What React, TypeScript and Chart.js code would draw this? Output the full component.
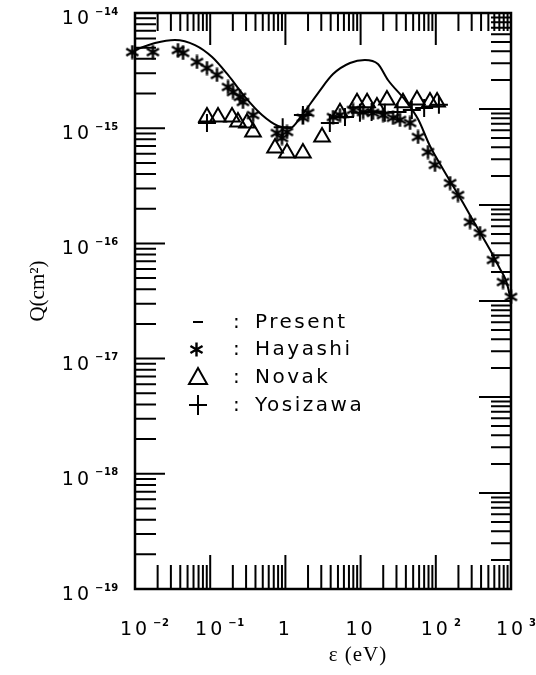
import React, { useEffect, useRef } from 'react';
import { Chart, registerables } from 'chart.js';

Chart.register(...registerables);

// ---- data (energy in eV, cross section in cm^2) ----
const presentEnergy = [0.01, 0.0185, 0.034, 0.0628, 0.106, 0.1725, 0.29, 0.489, 0.797, 1.15, 1.66, 2.72, 4.3, 7.23, 11.4, 17.0, 23.1, 38.9, 58, 83.7, 125, 230, 353, 526, 715, 832, 912, 970];
const presentQ = [4.77e-15, 5.49e-15, 5.83e-15, 5.27e-15, 4.15e-15, 2.9e-15, 1.87e-15, 1.3e-15, 1.045e-15, 1.0e-15, 1.3e-15, 2.02e-15, 2.95e-15, 3.68e-15, 3.91e-15, 3.61e-15, 2.62e-15, 1.76e-15, 1.2e-15, 7.0e-16, 4.4e-16, 2.25e-16, 1.38e-16, 8.8e-17, 6.0e-17, 5.0e-17, 4.15e-17, 3.43e-17];

const hayashiEnergy = [0.0092, 0.0173, 0.0373, 0.0435, 0.0667, 0.0906, 0.123, 0.1725, 0.201, 0.249, 0.273, 0.371, 0.773, 0.901, 1.05, 1.71, 2.0, 4.3, 5.32, 7.93, 10.8, 14.6, 19.9, 27.0, 33.4, 45.4, 58.0, 78.7, 97.5, 155, 197, 285, 387, 577, 784, 1000];
const hayashiQ = [4.58e-15, 4.58e-15, 4.77e-15, 4.5e-15, 3.76e-15, 3.33e-15, 2.9e-15, 2.28e-15, 2.06e-15, 1.87e-15, 1.69e-15, 1.3e-15, 9.08e-16, 8.22e-16, 9.27e-16, 1.23e-15, 1.36e-15, 1.25e-15, 1.3e-15, 1.44e-15, 1.38e-15, 1.36e-15, 1.3e-15, 1.23e-15, 1.18e-15, 1.11e-15, 8.39e-16, 6.21e-16, 4.8e-16, 3.34e-16, 2.63e-16, 1.53e-16, 1.23e-16, 7.18e-17, 4.62e-17, 3.43e-17];

const novakEnergy = [0.0906, 0.127, 0.195, 0.234, 0.308, 0.371, 0.728, 1.05, 1.71, 3.07, 5.32, 8.96, 12.2, 16.5, 22.4, 36.6, 56.2, 83.7, 104];
const novakQ = [1.25e-15, 1.25e-15, 1.25e-15, 1.13e-15, 1.11e-15, 9.27e-16, 6.73e-16, 6.09e-16, 6.09e-16, 8.39e-16, 1.36e-15, 1.66e-15, 1.66e-15, 1.53e-15, 1.76e-15, 1.66e-15, 1.76e-15, 1.69e-15, 1.69e-15];

const yosizawaEnergy = [0.0906, 0.92, 1.71, 3.9, 6.2, 9.8, 14, 21, 31, 48, 70, 110];
const yosizawaQ = [1.11e-15, 1.02e-15, 1.3e-15, 1.11e-15, 1.25e-15, 1.36e-15, 1.38e-15, 1.36e-15, 1.38e-15, 1.44e-15, 1.5e-15, 1.6e-15];

const xTickValues = [1e-2, 1e-1, 1, 10, 100, 1000];
const xTickLabels = ['10^-2', '10^-1', '1', '10', '10^2', '10^3'];
const yTickValues = [1e-14, 1e-15, 1e-16, 1e-17, 1e-18, 1e-19];
const yTickLabels = ['10^-14', '10^-15', '10^-16', '10^-17', '10^-18', '10^-19'];
const y2TickValues = [1e-14, 1e-15, 1e-16, 1e-17, 1e-18, 1e-19, 1e-20];

const legendNames = ['Present', 'Hayashi', 'Novak', 'Yosizawa'];

const INK = '#000000';
const SANS = '"DejaVu Sans", "Liberation Sans", sans-serif';
const SERIF = '"Liberation Serif", "DejaVu Serif", serif';

function toPoints(xs: number[], ys: number[]) {
  return xs.map((x, i) => ({ x, y: ys[i] }));
}

function logTicks(decades: number[]) {
  const sorted = [...decades].sort((a, b) => a - b);
  const out: { value: number; major: boolean }[] = [];
  sorted.forEach((d, i) => {
    out.push({ value: d, major: true });
    if (i < sorted.length - 1) {
      for (let m = 2; m <= 9; m++) out.push({ value: m * d, major: false });
    }
  });
  return out;
}

function makeAsterisk(size: number, lw: number) {
  const c = document.createElement('canvas');
  c.width = size;
  c.height = size;
  const g = c.getContext('2d')!;
  g.strokeStyle = INK;
  g.lineWidth = lw;
  g.lineCap = 'butt';
  const r = size / 2 - 0.5;
  const cx = size / 2;
  g.beginPath();
  for (let k = 0; k < 3; k++) {
    const ang = Math.PI / 2 + (k * Math.PI) / 3;
    g.moveTo(cx + r * Math.cos(ang), cx + r * Math.sin(ang));
    g.lineTo(cx - r * Math.cos(ang), cx - r * Math.sin(ang));
  }
  g.stroke();
  return c;
}

function drawPowLabel(ctx: CanvasRenderingContext2D, label: string, x: number, y: number, mode: 'center' | 'right') {
  const [base, exp] = label.split('^');
  ctx.font = `19px ${SANS}`;
  (ctx as any).letterSpacing = '3px';
  ctx.textBaseline = 'middle';
  const bw = ctx.measureText(base).width;
  const bx = mode === 'center' ? x - bw / 2 : x - bw;
  ctx.textAlign = 'left';
  ctx.fillText(base, bx, y);
  if (exp) {
    ctx.font = `bold 10px ${SANS}`;
    (ctx as any).letterSpacing = '0.5px';
    ctx.fillText(exp.replace('-', '\u2212'), bx + bw + 3, y - 7);
  }
}

const framePlugin = {
  id: 'framePlugin',
  afterDatasetsDraw(chart: any) {
    const { ctx, chartArea: a, scales } = chart;
    const sx = scales.x;
    const sy = scales.y;
    const sy2 = scales.y2;
    ctx.save();
    ctx.strokeStyle = INK;
    ctx.fillStyle = INK;
    ctx.lineWidth = 2;
    ctx.beginPath();
    for (const t of sx.ticks) {
      const px = sx.getPixelForValue(t.value);
      ctx.moveTo(px, a.bottom);
      ctx.lineTo(px, a.bottom - (t.major ? 34 : 24));
      ctx.moveTo(px, a.top);
      ctx.lineTo(px, a.top + (t.major ? 32 : 18));
    }
    for (const t of sy.ticks) {
      const py = sy.getPixelForValue(t.value);
      ctx.moveTo(a.left, py);
      ctx.lineTo(a.left + (t.major ? 30 : 21), py);
    }
    for (const t of sy2.ticks) {
      const py = sy2.getPixelForValue(t.value);
      ctx.moveTo(a.right, py);
      ctx.lineTo(a.right - (t.major ? 32 : 20), py);
    }
    ctx.stroke();
    ctx.lineWidth = 2.5;
    ctx.strokeRect(a.left, a.top, a.right - a.left, a.bottom - a.top);

    // tick labels
    xTickValues.forEach((v, i) => {
      drawPowLabel(ctx, xTickLabels[i], sx.getPixelForValue(v), a.bottom + 41, 'center');
    });
    yTickValues.forEach((v, i) => {
      drawPowLabel(ctx, yTickLabels[i], a.left - 43, sy.getPixelForValue(v) + 6, 'right');
    });

    // axis titles
    (ctx as any).letterSpacing = '1px';
    ctx.font = `21px ${SERIF}`;
    ctx.textAlign = 'center';
    ctx.textBaseline = 'middle';
    ctx.fillText('\u03b5 (eV)', (a.left + a.right) / 2 + 35, a.bottom + 66);
    ctx.save();
    ctx.translate(38, 291);
    ctx.rotate(-Math.PI / 2);
    (ctx as any).letterSpacing = '0px';
    ctx.font = `21px ${SERIF}`;
    ctx.fillText('Q(cm\u00b2)', 0, 0);
    ctx.restore();

    // legend
    const symX = a.left + 63;
    const colonX = a.left + 98;
    const nameX = a.left + 120;
    const rows = [a.top + 309, a.top + 336, a.top + 364, a.top + 392];
    ctx.lineWidth = 2;
    ctx.beginPath();
    ctx.moveTo(symX - 5, rows[0]);
    ctx.lineTo(symX + 5, rows[0]);
    ctx.stroke();
    const ast = (chart as any).$asterisk as HTMLCanvasElement;
    if (ast) ctx.drawImage(ast, Math.round(symX - 2 - ast.width / 2), Math.round(rows[1] - ast.height / 2));
    ctx.beginPath();
    ctx.moveTo(symX, rows[2] - 9);
    ctx.lineTo(symX + 9, rows[2] + 7);
    ctx.lineTo(symX - 9, rows[2] + 7);
    ctx.closePath();
    ctx.stroke();
    ctx.beginPath();
    ctx.moveTo(symX - 9, rows[3]);
    ctx.lineTo(symX + 9, rows[3]);
    ctx.moveTo(symX, rows[3] - 10);
    ctx.lineTo(symX, rows[3] + 10);
    ctx.stroke();

    ctx.font = `20px ${SANS}`;
    (ctx as any).letterSpacing = '2.5px';
    ctx.textAlign = 'left';
    ctx.textBaseline = 'middle';
    legendNames.forEach((n, i) => {
      ctx.fillText(':', colonX, rows[i] + 1);
      ctx.fillText(n, nameX, rows[i] + 1);
    });
    ctx.restore();
  },
};

export default function App() {
  const ref = useRef<HTMLCanvasElement | null>(null);
  useEffect(() => {
    if (!ref.current) return;
    const asterisk = makeAsterisk(15, 2.4);
    const hiddenAxis = {
      ticks: { display: false },
      grid: { display: false },
      border: { display: false },
      title: { display: false },
    };
    const chart = new Chart(ref.current, {
      type: 'scatter',
      data: {
        datasets: [
          {
            label: 'Present',
            data: toPoints(presentEnergy, presentQ),
            showLine: true,
            borderColor: INK,
            borderWidth: 2,
            pointRadius: 0,
            cubicInterpolationMode: 'monotone',
            fill: false,
          } as any,
          {
            label: 'Hayashi',
            data: toPoints(hayashiEnergy, hayashiQ),
            pointStyle: asterisk,
            pointRadius: 7,
            clip: false,
          } as any,
          {
            label: 'Novak',
            data: toPoints(novakEnergy, novakQ),
            pointStyle: 'triangle',
            pointRadius: 9,
            borderColor: INK,
            backgroundColor: 'rgba(0,0,0,0)',
            borderWidth: 2,
            clip: false,
          } as any,
          {
            label: 'Yosizawa',
            data: toPoints(yosizawaEnergy, yosizawaQ),
            pointStyle: 'cross',
            pointRadius: 9,
            borderColor: INK,
            borderWidth: 2,
            clip: false,
          } as any,
        ],
      },
      options: {
        animation: false,
        responsive: false,
        events: [],
        layout: { padding: { left: 135, right: 25, top: 13, bottom: 86 } },
        plugins: { legend: { display: false }, tooltip: { enabled: false }, title: { display: false } },
        scales: {
          x: {
            type: 'logarithmic',
            position: 'bottom',
            min: 0.01,
            max: 1000,
            ...hiddenAxis,
            afterBuildTicks: (s: any) => { s.ticks = logTicks(xTickValues); },
            afterFit: (s: any) => { s.height = 0; },
          },
          y: {
            type: 'logarithmic',
            position: 'left',
            min: 1e-19,
            max: 1e-14,
            ...hiddenAxis,
            afterBuildTicks: (s: any) => { s.ticks = logTicks(yTickValues); },
            afterFit: (s: any) => { s.width = 0; },
          },
          y2: {
            type: 'logarithmic',
            position: 'right',
            min: 1e-20,
            max: 1e-14,
            ...hiddenAxis,
            afterBuildTicks: (s: any) => { s.ticks = logTicks(y2TickValues); },
            afterFit: (s: any) => { s.width = 0; },
          },
        } as any,
      },
      plugins: [framePlugin],
    });
    (chart as any).$asterisk = asterisk;
    chart.draw();
    return () => chart.destroy();
  }, []);

  return (
    <div style={{ position: 'fixed', left: 0, top: 0, width: 536, height: 675, background: '#fff' }}>
      <canvas ref={ref} width={536} height={675} style={{ display: 'block' }} />
    </div>
  );
}
